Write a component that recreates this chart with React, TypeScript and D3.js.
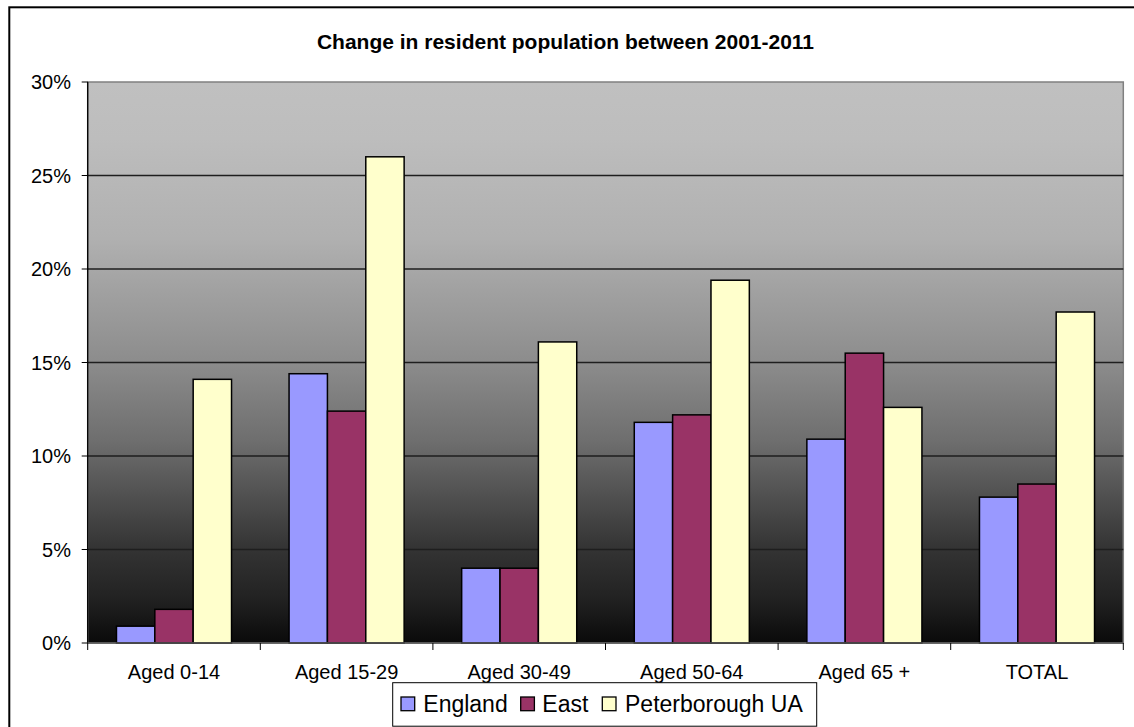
import React from "react";
import * as d3 from "d3";

// Age bands and percentage change in resident population, 2001-2011
const categories = ["Aged 0-14", "Aged 15-29", "Aged 30-49", "Aged 50-64", "Aged 65 +", "TOTAL"];
const seriesNames = ["England", "East", "Peterborough UA"];
const englandValues = [0.9, 14.4, 4.0, 11.8, 10.9, 7.8];
const eastValues = [1.8, 12.4, 4.0, 12.2, 15.5, 8.5];
const peterboroughValues = [14.1, 26.0, 16.1, 19.4, 12.6, 17.7];
const yTicks = [0, 5, 10, 15, 20, 25, 30];
const seriesColors = ["#9999FF", "#993366", "#FFFFCC"];

const W = 1134;
const H = 727;
const plot = { left: 87.7, right: 1123.3, top: 82, bottom: 643 };
const FONT = "'Liberation Sans', Arial, sans-serif";

// Plot-area backdrop: silver fading to black
const bgStops: [number, string][] = [
  [0, "#c0c0c0"],
  [0.1, "#bdbdbd"],
  [0.28, "#b0b0b0"],
  [0.5, "#8c8c8c"],
  [0.64, "#6e6e6e"],
  [0.83, "#343434"],
  [0.92, "#222222"],
  [1, "#0a0a0a"],
];

export default function App() {
  const series = [englandValues, eastValues, peterboroughValues];

  const x0 = d3.scaleBand<string>().domain(categories).range([plot.left, plot.right]).paddingInner(0).paddingOuter(0);
  const x1 = d3
    .scaleBand<string>()
    .domain(seriesNames)
    .range([0, x0.bandwidth()])
    .paddingInner(0)
    .paddingOuter(0.75);
  const y = d3.scaleLinear().domain([0, 30]).range([plot.bottom, plot.top]);

  const boundaries = categories.map((c) => x0(c)!).concat([plot.right]);

  return (
    <svg
      width={W}
      height={H}
      style={{ position: "absolute", left: 0, top: 0, background: "#fff" }}
      fontFamily={FONT}
    >
      <defs>
        <linearGradient id="plotBg" x1="0" y1="0" x2="0" y2="1">
          {bgStops.map(([o, c]) => (
            <stop key={o} offset={o} stopColor={c} />
          ))}
        </linearGradient>
      </defs>

      {/* chart frame */}
      <rect x={9.3} y={7.3} width={W + 20} height={H + 20} fill="#fff" stroke="#000" strokeWidth={2} />

      {/* title */}
      <text x={565.5} y={49} textAnchor="middle" fontSize={21} fontWeight="bold" fill="#000">
        Change in resident population between 2001-2011
      </text>

      {/* plot area */}
      <rect
        x={plot.left}
        y={plot.top}
        width={plot.right - plot.left}
        height={plot.bottom - plot.top}
        fill="url(#plotBg)"
        stroke="#808080"
        strokeWidth={1.5}
      />

      {/* gridlines */}
      {yTicks
        .filter((t) => t > 0 && t < 30)
        .map((t) => (
          <line key={t} x1={plot.left} x2={plot.right} y1={y(t)} y2={y(t)} stroke="#1e1e1e" strokeWidth={1.3} />
        ))}

      {/* bars */}
      {categories.map((c, i) => (
        <g key={c} transform={`translate(${x0(c)},0)`}>
          {seriesNames.map((s, j) => (
            <rect
              key={s}
              x={x1(s)!}
              y={y(series[j][i])}
              width={x1.bandwidth()}
              height={y(0) - y(series[j][i])}
              fill={seriesColors[j]}
              stroke="#000"
              strokeWidth={1.5}
            />
          ))}
        </g>
      ))}

      {/* y axis */}
      <line x1={plot.left} x2={plot.left} y1={plot.top} y2={plot.bottom} stroke="#000" strokeWidth={1.3} />
      {yTicks.map((t) => (
        <g key={t}>
          <line x1={plot.left - 6} x2={plot.left} y1={y(t)} y2={y(t)} stroke="#000" strokeWidth={1} />
          <text x={71} y={y(t)} dy="0.36em" textAnchor="end" fontSize={20} fill="#000">
            {`${t}%`}
          </text>
        </g>
      ))}

      {/* x axis */}
      <line x1={plot.left} x2={plot.right} y1={plot.bottom} y2={plot.bottom} stroke="#555" strokeWidth={1.5} />
      {boundaries.map((b, i) => (
        <line key={i} x1={b} x2={b} y1={plot.bottom} y2={plot.bottom + 7} stroke="#000" strokeWidth={1} />
      ))}
      {categories.map((c) => (
        <text key={c} x={x0(c)! + x0.bandwidth() / 2} y={679.3} textAnchor="middle" fontSize={20} fill="#000">
          {c}
        </text>
      ))}

      {/* legend */}
      <rect x={392.7} y={682.7} width={424} height={43.5} fill="#fff" stroke="#000" strokeWidth={1} />
      {[
        { x: 401, tx: 423.3 },
        { x: 520.7, tx: 542.3 },
        { x: 602.3, tx: 625 },
      ].map((p, j) => (
        <g key={seriesNames[j]}>
          <rect x={p.x} y={697} width={13.7} height={13.7} fill={seriesColors[j]} stroke="#000" strokeWidth={1.3} />
          <text x={p.tx} y={712} fontSize={23} fill="#000">
            {seriesNames[j]}
          </text>
        </g>
      ))}
    </svg>
  );
}
